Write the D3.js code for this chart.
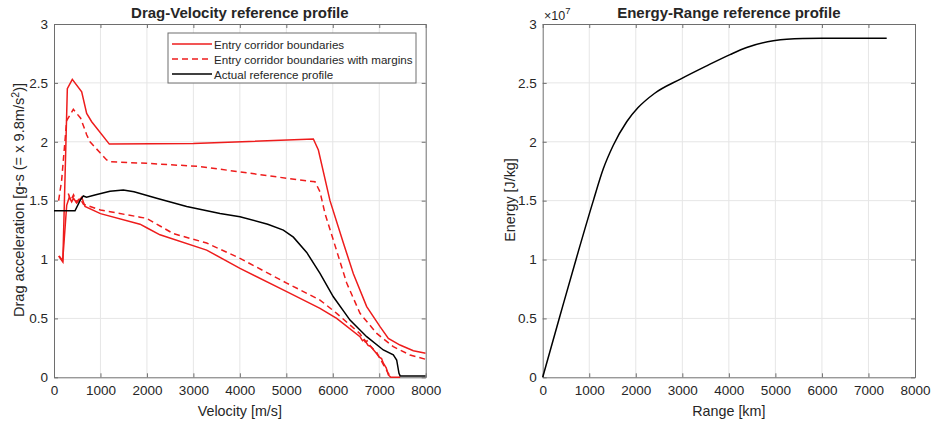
<!DOCTYPE html>
<html lang="en">
<head>
<meta charset="utf-8" />
<title>Reference profiles</title>
<script src="https://cdnjs.cloudflare.com/ajax/libs/d3/7.8.5/d3.min.js"></script>
<style>
  body { margin: 0; background: #fff; }
  svg text { font-family: "Liberation Sans", Arial, sans-serif; fill: #262626; }
  .grid line { stroke: #e6e6e6; stroke-width: 1; }
  .axis path, .axis line { stroke: #6e6e6e; }
</style>
</head>
<body>
<div id="chart"></div>
<script>
// Drag-velocity: [velocity m/s, drag g]
const upperBound = [
  [100, 1.03], [190, 0.98], [287, 2.45], [394, 2.53], [596, 2.425], [703, 2.24],
  [811, 2.17], [1191, 1.98], [3000, 1.985], [5582, 2.023], [5690, 1.93],
  [5940, 1.5], [6228, 1.14], [6443, 0.88], [6730, 0.6], [7017, 0.43],
  [7196, 0.33], [7447, 0.274], [7734, 0.226], [8000, 0.204]
];
const upperMargin = [
  [100, 1.5], [165, 1.675], [273, 2.18], [416, 2.275], [574, 2.2], [703, 2.06],
  [775, 2.0], [1134, 1.845], [1205, 1.83], [1995, 1.817], [3142, 1.79],
  [5295, 1.675], [5618, 1.66], [5725, 1.575], [5833, 1.39], [6012, 1.165],
  [6300, 0.8], [6586, 0.543], [6946, 0.373], [7303, 0.26], [7663, 0.19], [8000, 0.153]
];
const lowerBound = [
  [110, 1.03], [187, 0.99], [273, 1.46], [330, 1.53], [380, 1.49], [420, 1.52],
  [488, 1.48], [596, 1.53], [667, 1.45], [1000, 1.39], [1851, 1.3], [1995, 1.27],
  [2281, 1.21], [3286, 1.08], [4003, 0.925], [5008, 0.727], [5725, 0.585],
  [6084, 0.5], [6586, 0.345], [6640, 0.31], [6680, 0.32], [6760, 0.27],
  [6820, 0.26], [6946, 0.2], [7000, 0.17], [7050, 0.16], [7088, 0.12],
  [7150, 0.08], [7196, 0.02], [7250, 0], [7450, 0]
];
const lowerMargin = [
  [308, 1.56], [360, 1.5], [420, 1.55], [480, 1.49], [560, 1.52], [631, 1.47],
  [1000, 1.42], [1851, 1.36], [1995, 1.35], [2568, 1.22], [3286, 1.14],
  [4003, 1.01], [5008, 0.8], [5725, 0.656], [6084, 0.543], [6586, 0.37],
  [6700, 0.3], [6740, 0.31], [6800, 0.27], [6946, 0.21], [7100, 0.1],
  [7200, 0.03], [7260, 0]
];
const actualProfile = [
  [0, 1.414], [452, 1.414], [560, 1.5], [631, 1.54], [700, 1.53], [900, 1.55],
  [1205, 1.58], [1492, 1.59], [1722, 1.575], [2210, 1.52], [2856, 1.45],
  [3573, 1.39], [4003, 1.363], [4600, 1.3], [4936, 1.25], [5152, 1.19],
  [5439, 1.06], [5725, 0.883], [6012, 0.684], [6371, 0.486], [6730, 0.345],
  [7088, 0.232], [7303, 0.19], [7375, 0.147], [7425, 0.034], [7450, 0.012],
  [8000, 0.012]
];

// Energy-range: [range km, energy J/kg]
const energyRange = [
  [0, 0], [370, 0.52e7], [730, 1.02e7], [1088, 1.5e7], [1302, 1.77e7],
  [1517, 1.97e7], [1805, 2.17e7], [2050, 2.29e7], [2400, 2.41e7],
  [2950, 2.53e7], [3500, 2.64e7], [4025, 2.74e7], [4383, 2.8e7],
  [4955, 2.857e7], [5243, 2.87e7], [6000, 2.878e7], [7392, 2.88e7]
];

const xTicks = d3.range(0, 8001, 1000);
const yTicks = [0, 0.5, 1, 1.5, 2, 2.5, 3];

const width = 931, height = 423;
const svg = d3.select('#chart').append('svg')
  .attr('width', width).attr('height', height);

function panel(left, right, yMax, title, xLabel) {
  const g = svg.append('g');
  const x = d3.scaleLinear().domain([0, 8000]).range([left, right]);
  const y = d3.scaleLinear().domain([0, yMax]).range([377.3, 24]);
  const top = 24, bottom = 377.3;
  const yVals = yTicks.map(d => d * yMax / 3);

  // grid
  const grid = g.append('g').attr('class', 'grid');
  grid.selectAll('.gx').data(xTicks.slice(1, -1)).join('line')
    .attr('x1', d => x(d)).attr('x2', d => x(d)).attr('y1', top).attr('y2', bottom);
  grid.selectAll('.gy').data(yVals.slice(1, -1)).join('line')
    .attr('y1', d => y(d)).attr('y2', d => y(d))
    .attr('x1', left).attr('x2', right);

  // axes, ticks inward like matlab
  g.append('g').attr('class', 'axis')
    .attr('transform', `translate(0,${bottom})`)
    .call(d3.axisBottom(x).tickValues(xTicks).tickSize(-4).tickPadding(8)
      .tickFormat(d3.format('d')).tickSizeOuter(0));
  g.append('g').attr('class', 'axis')
    .attr('transform', `translate(0,${top})`)
    .call(d3.axisTop(x).tickValues(xTicks).tickSize(-4).tickFormat('').tickSizeOuter(0));
  g.append('g').attr('class', 'axis')
    .attr('transform', `translate(${left},0)`)
    .call(d3.axisLeft(y).tickValues(yVals).tickSize(-4).tickPadding(6)
      .tickFormat((d, i) => yTicks[i]).tickSizeOuter(0));
  g.append('g').attr('class', 'axis')
    .attr('transform', `translate(${right},0)`)
    .call(d3.axisRight(y).tickValues(yVals).tickSize(-4).tickFormat('').tickSizeOuter(0));
  g.selectAll('.axis text').style('font-size', '13.5px')
    .style('font-family', '"Liberation Sans", Arial, sans-serif').attr('fill', '#262626');

  g.append('text')
    .attr('x', (left + right) / 2).attr('y', 18)
    .attr('text-anchor', 'middle')
    .style('font-weight', 'bold').style('font-size', '15px')
    .text(title);
  g.append('text')
    .attr('x', (left + right) / 2).attr('y', 416)
    .attr('text-anchor', 'middle').style('font-size', '14.3px')
    .text(xLabel);
  return { g, x, y };
}

// ---- left panel
const p1 = panel(54, 425.7, 3, 'Drag-Velocity reference profile', 'Velocity [m/s]');
const line1 = d3.line().x(d => p1.x(d[0])).y(d => p1.y(d[1]));
p1.g.append('clipPath').attr('id', 'clip1')
  .append('rect').attr('x', 54).attr('y', 24).attr('width', 371.7).attr('height', 354);

const series = [
  { data: upperBound, color: '#ee1c1c', dash: null },
  { data: lowerBound, color: '#ee1c1c', dash: null },
  { data: upperMargin, color: '#ee1c1c', dash: '6,4' },
  { data: lowerMargin, color: '#ee1c1c', dash: '6,4' },
  { data: actualProfile, color: '#000', dash: null }
];
p1.g.append('g').attr('clip-path', 'url(#clip1)')
  .selectAll('path').data(series).join('path')
  .attr('d', d => line1(d.data))
  .attr('fill', 'none')
  .attr('stroke', d => d.color)
  .attr('stroke-width', 1.5)
  .attr('stroke-dasharray', d => d.dash);

p1.g.append('text')
  .attr('transform', 'translate(24,200) rotate(-90)')
  .attr('text-anchor', 'middle').style('font-size', '14.6px')
  .html('Drag acceleration [g-s (= x 9.8m/s<tspan dy="-5" font-size="10.5px">2</tspan><tspan dy="5">)]</tspan>');

// legend
const legendItems = [
  { label: 'Entry corridor boundaries', color: '#ee1c1c', dash: null },
  { label: 'Entry corridor boundaries with margins', color: '#ee1c1c', dash: '6,4' },
  { label: 'Actual reference profile', color: '#000', dash: null }
];
const lg = p1.g.append('g').attr('transform', 'translate(168,33)');
lg.append('rect').attr('width', 248).attr('height', 50)
  .attr('fill', '#fff').attr('stroke', '#6e6e6e').attr('stroke-width', 1);
legendItems.forEach((d, i) => {
  const yy = 11 + i * 15;
  lg.append('line').attr('x1', 4).attr('x2', 44).attr('y1', yy).attr('y2', yy)
    .attr('stroke', d.color).attr('stroke-width', 1.5).attr('stroke-dasharray', d.dash);
  lg.append('text').attr('x', 46).attr('y', yy + 4.5).style('font-size', '11.6px').text(d.label);
});

// ---- right panel
const p2 = panel(542.7, 915, 3e7, 'Energy-Range reference profile', 'Range [km]');
const line2 = d3.line().curve(d3.curveMonotoneX).x(d => p2.x(d[0])).y(d => p2.y(d[1]));
p2.g.append('path').attr('d', line2(energyRange))
  .attr('fill', 'none').attr('stroke', '#000').attr('stroke-width', 1.5);
p2.g.append('text')
  .attr('transform', 'translate(515,200) rotate(-90)')
  .attr('text-anchor', 'middle').style('font-size', '14.3px')
  .text('Energy [J/kg]');
p2.g.append('text').attr('x', 544).attr('y', 20).style('font-size', '12.5px')
  .html('\u00d710<tspan dy="-6" font-size="9.5px">7</tspan>');
</script>
</body>
</html>
